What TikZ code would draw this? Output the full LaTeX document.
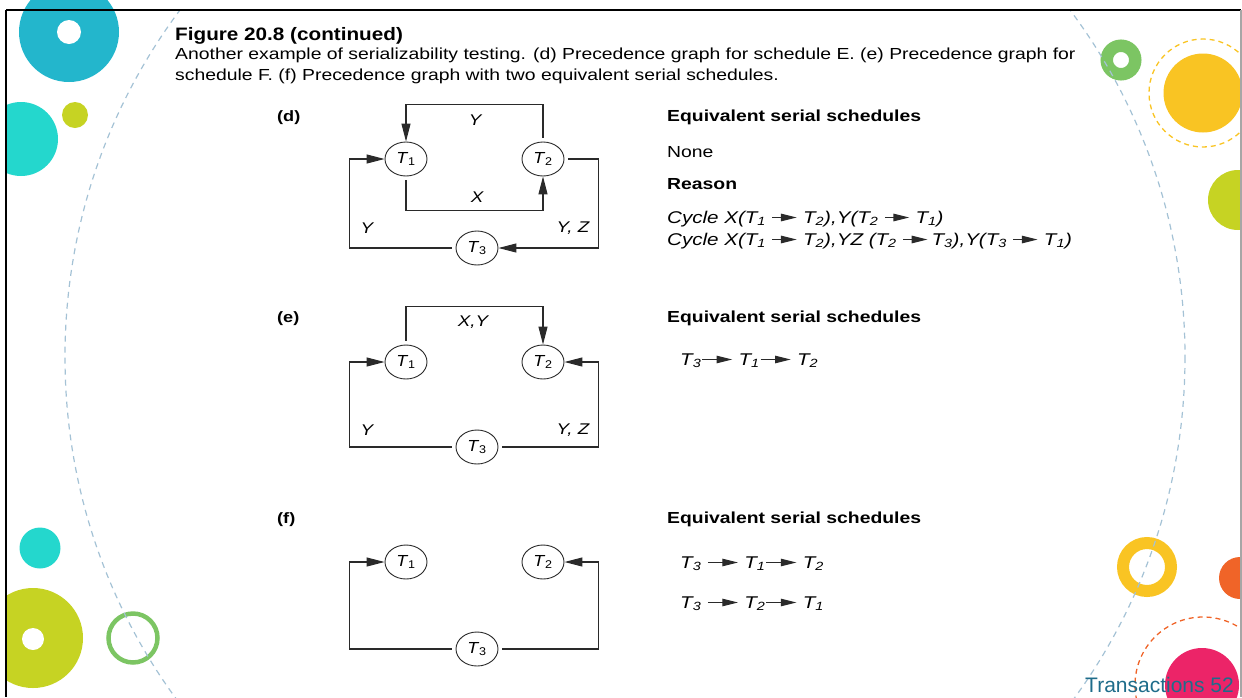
\documentclass[tikz,border=0pt]{standalone}
\usepackage{fontspec}
\usepackage{graphicx}
\setmainfont{Liberation Sans}
\usetikzlibrary{arrows.meta,shapes.geometric}
\definecolor{tealA}{HTML}{23B6CC}
\definecolor{turq}{HTML}{24D7CD}
\definecolor{limeA}{HTML}{C6D323}
\definecolor{grnA}{HTML}{7CC563}
\definecolor{yelA}{HTML}{F9C423}
\definecolor{orgA}{HTML}{F06428}
\definecolor{magA}{HTML}{EC2468}
\definecolor{dashc}{HTML}{A4C2D5}
\definecolor{ink}{HTML}{2A2A2A}
\definecolor{foot}{HTML}{1E6C8A}
\newcommand\W[1]{\scalebox{1.21}[1]{#1}}
\newcommand\Tn[1]{\scalebox{1.12}[1]{\textit{T}\kern-0.3pt\textsubscript{\upshape #1}}}
\newcommand\tarr[1][20]{\tikz[baseline=0pt,x=1pt,y=1pt]\draw[ink,line width=1.1pt,-{Triangle[length=13pt,width=7.5pt]}] (0,5.5) -- (#1,5.5);}
\begin{document}
\begin{tikzpicture}[x=1pt,y=-1pt,
  tx/.style={draw=ink, ellipse, line width=0.9pt, minimum width=42pt, minimum height=34pt, inner sep=0pt, font=\fontsize{16}{16}\selectfont},
  lnk/.style={draw=ink, line width=1.1pt},
  arr/.style={lnk, -{Triangle[length=18pt, width=9pt]}, shorten <=4pt},
  lab/.style={font=\itshape\fontsize{15.5}{15.5}\selectfont, inner sep=0pt},
  hdr/.style={anchor=base west, inner sep=0pt, font=\bfseries\fontsize{16}{16}\selectfont},
  bodytxt/.style={anchor=base west, inner sep=0pt, font=\fontsize{16}{16}\selectfont},
  cyc/.style={anchor=base west, inner sep=0pt, font=\itshape\fontsize{17}{17}\selectfont},
  captxt/.style={anchor=base west, inner sep=0pt, font=\fontsize{16}{16}\selectfont},
  partlbl/.style={anchor=base west, inner sep=0pt, font=\bfseries\fontsize{15}{15}\selectfont}]
\useasboundingbox (0,0) rectangle (1242,697);
% decorations
\begin{scope}
\clip (6,0) rectangle (1241,697);
\fill[tealA] (69,32) circle (50);
\fill[white] (69,32) circle (12);
\fill[turq] (21,139) circle (37);
\fill[limeA] (75,115) circle (13);
\fill[turq] (40,548) circle (20.5);
\fill[limeA] (33,638) circle (50);
\fill[white] (33,639) circle (11);
\draw[grnA, line width=4.5pt] (133,638) circle (24.5);
\draw[grnA, line width=12.5pt] (1121,60) circle (14.25);
\fill[yelA] (1203,93) circle (39.5);
\draw[yelA, line width=1.3pt, dash pattern=on 5pt off 4pt] (1203,93) circle (54);
\fill[limeA] (1238,200) circle (30);
\draw[yelA, line width=12pt] (1147,567) circle (24);
\fill[orgA] (1240,578) circle (21);
\draw[orgA, line width=1.3pt, dash pattern=on 5pt off 4pt] (1203,685) circle (68);
\fill[magA] (1202,685) circle (37);
\end{scope}
\begin{scope}
\clip (6,10) rectangle (1241,697);
\draw[dashc, line width=1.2pt, dash pattern=on 6pt off 5pt] (625,357) ellipse [x radius=560, y radius=571.5];
\end{scope}
% frame
\draw[black, line width=2.5pt] (6,10) -- (1241,10);
\draw[black, line width=2pt] (6,10) -- (6,697);
\draw[gray!70, line width=1.5pt] (1241,10) -- (1241,697);
% caption
\node[anchor=base west, inner sep=0pt, font=\bfseries\fontsize{18}{18}\selectfont] (ttl) at (175,40) {\scalebox{1.15}[1]{Figure 20.8 (continued)}};
\node[captxt] (cap1) at (175,59) {\W{Another example of serializability testing. (d) Precedence graph for schedule E. (e) Precedence graph for}};
\node[captxt] (cap2) at (175,80) {\W{schedule F. (f) Precedence graph with two equivalent serial schedules.}};
% (d)
\node[partlbl] (pd) at (277,121) {\W{(d)}};
\node[tx] (d1) at (406,159) {\Tn1};
\node[tx] (d2) at (543,159) {\Tn2};
\node[tx] (d3) at (477,248) {\Tn3};
\draw[arr] (d2.north) -- ++(0,-37) -| (d1.north);
\draw[arr] (d1.south) -- ++(0,34) -| (d2.south);
\draw[arr] (d3.west) -- ++(-106,0) |- (d1.west);
\draw[arr] (d2.east) -- ++(34,0) |- (d3.east);
\node[lab] (dly) at (475,120) {\W{Y}};
\node[lab] (dlx) at (477,197) {\W{X}};
\node[lab] (dly2) at (367,228) {\W{Y}};
\node[lab] (dlyz) at (573,228) {\W{Y, Z}};
\node[hdr] (dh) at (667,121) {\W{Equivalent serial schedules}};
\node[bodytxt] (dn) at (667,157) {\W{None}};
\node[hdr] (dr) at (667,189) {\W{Reason}};
\node[cyc] (dc1) at (667,223) {\W{Cycle X(T\textsubscript{1} \tarr\ T\textsubscript{2}),Y(T\textsubscript{2} \tarr\ T\textsubscript{1})}};
\node[cyc] (dc2) at (667,245) {\W{Cycle X(T\textsubscript{1} \tarr\ T\textsubscript{2}),YZ (T\textsubscript{2} \tarr\,T\textsubscript{3}),Y(T\textsubscript{3} \tarr\ T\textsubscript{1})}};
% (e)
\node[partlbl] (pe) at (277,322) {\W{(e)}};
\node[tx] (e1) at (406,362) {\Tn1};
\node[tx] (e2) at (543,362) {\Tn2};
\node[tx] (e3) at (477,447) {\Tn3};
\draw[arr] (e1.north) -- ++(0,-38) -| (e2.north);
\draw[arr] (e3.west) -- ++(-106,0) |- (e1.west);
\draw[arr] (e3.east) -- ++(100,0) |- (e2.east);
\node[lab] (elxy) at (473,322) {\W{X,Y}};
\node[lab] (ely) at (367,430) {\W{Y}};
\node[lab] (elyz) at (573,430) {\W{Y, Z}};
\node[hdr] (eh) at (667,322) {\W{Equivalent serial schedules}};
\node[cyc] (es) at (680,365) {\W{T\textsubscript{3}\tarr[25]\ T\textsubscript{1}\tarr[25]\ T\textsubscript{2}}};
% (f)
\node[partlbl] (pf) at (277,523) {\W{(f)}};
\node[tx] (f1) at (406,562) {\Tn1};
\node[tx] (f2) at (543,562) {\Tn2};
\node[tx] (f3) at (477,649) {\Tn3};
\draw[arr] (f3.west) -- ++(-106,0) |- (f1.west);
\draw[arr] (f3.east) -- ++(100,0) |- (f2.east);
\node[hdr] (fh) at (667,523) {\W{Equivalent serial schedules}};
\node[cyc] (fs1) at (680,568) {\W{T\textsubscript{3} \tarr[25]\ T\textsubscript{1}\tarr[25]\ T\textsubscript{2}}};
\node[cyc] (fs2) at (680,608) {\W{T\textsubscript{3} \tarr[25]\ T\textsubscript{2}\tarr[25]\ T\textsubscript{1}}};
% footer
\node[anchor=base west, inner sep=0pt, text=foot, font=\fontsize{21}{21}\selectfont] (ft) at (1085,692) {Transactions 52};
\end{tikzpicture}
\end{document}
